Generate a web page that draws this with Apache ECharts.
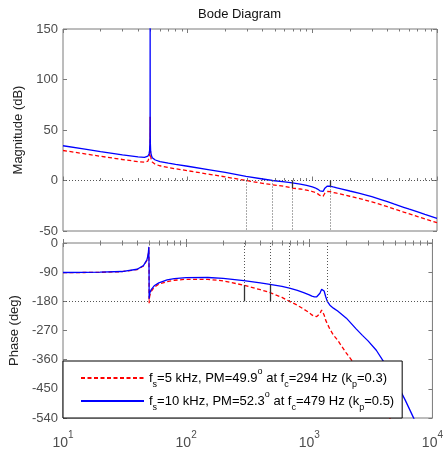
<!DOCTYPE html>
<html>
<head>
<meta charset="utf-8">
<script src="https://cdn.jsdelivr.net/npm/echarts@6/dist/echarts.min.js"></script>
<style>
html,body{margin:0;padding:0;background:#fff;}
#c{width:446px;height:455px;}
</style>
</head>
<body>
<div id="c"></div>
<script>
// ---------------- data ----------------
const freq = [10, 15, 20, 30, 40, 45, 48, 49, 49.5, 49.8,
  49.9, 49.95, 50, 50.05, 50.1, 50.2, 50.5, 51, 52, 55,
  60, 70, 80, 100, 150, 200, 294, 400, 479, 600,
  690, 800, 900, 1000, 1050, 1100, 1150, 1188, 1220, 1260,
  1285, 1320, 1358, 1400, 1470, 1570, 1700, 2000, 2400, 2700,
  3000, 3500, 4000, 4500, 5400, 6000, 7000, 8000, 10000];

const magRed = [29.7, 26.4, 24.0, 20.8, 18.7, 18.1, 19.2, 21.0, 24, 30,
  36, 45, 63, 45, 36, 30, 24, 21, 18.3, 16.0,
  14.6, 12.8, 11.6, 9.7, 6.1, 3.6, 0.0, -2.8, -4.2, -5.8,
  -7.5, -8.4, -9.5, -10.9, -11.8, -13.0, -14.8, -16.6, -15.6, -12.6,
  -11.4, -10.9, -10.8, -11.1, -11.8, -12.6, -13.5, -15.6, -18.0, -19.6,
  -21.1, -23.6, -25.9, -28.0, -31.2, -33.0, -35.7, -38.0, -41.8];

const magBlue = [34.4, 31.0, 28.6, 25.4, 23.4, 22.9, 24.2, 26.3, 29.5, 37,
  45, 60, 165, 60, 45, 37, 29, 25.5, 22.6, 20.3,
  18.8, 17.1, 15.9, 14.1, 10.6, 8.0, 4.0, 1.5, 0.0, -1.4,
  -2.3, -3.6, -4.8, -6.3, -7.2, -8.5, -10.2, -12.0, -10.8, -7.6,
  -6.2, -5.5, -5.4, -5.7, -6.4, -7.2, -8.2, -10.4, -12.8, -14.4,
  -16.0, -18.6, -21.0, -23.2, -26.5, -28.4, -31.1, -33.5, -37.4];

const phaseRed = [-91.5, -91, -90.5, -88.5, -82, -71, -54, -40, -26, -14,
  -9, -8, -95, -186, -183, -177, -166, -158, -150, -137,
  -127, -119, -115, -112, -112, -117, -130.1, -144, -153, -168,
  -180, -192, -204, -215, -222, -226, -227, -225, -218, -207,
  -206, -222, -238, -249, -266, -284, -300, -340, -380, -405,
  -432, -470, -505, -540, -600, -640, -700, -750, -830];

const phaseBlue = [-91, -90.5, -90, -88, -81, -70, -52, -38, -24, -12,
  -7, -6, -90, -172, -170, -166, -158, -151, -144, -132,
  -123, -114, -110, -107, -106.5, -109, -116, -123, -127.7, -134,
  -139, -146, -153, -160, -164, -166, -166, -163, -155, -143,
  -137, -148, -165, -180, -192, -201, -210, -232, -265, -285,
  -302, -331, -365, -396, -450, -484, -538, -590, -690];

// stability margins
const fcRed = 294, pmRed = 49.9;      // gain crossover & phase margin, fs = 5 kHz
const fcBlue = 479, pmBlue = 52.3;    // gain crossover & phase margin, fs = 10 kHz
const f180Red = 690, gmRedDb = -7.5;  // phase crossover & magnitude there
const f180Blue = 1400, gmBlueDb = -5.7;

// axes
const magTicks = [-50, 0, 50, 100, 150];
const phaseTicks = [-540, -450, -360, -270, -180, -90, 0];
const xMajor = [10, 100, 1000, 10000];
const xMinor = [20,30,40,50,60,70,80,90,200,300,400,500,600,700,800,900,2000,3000,4000,5000,6000,7000,8000,9000];

// ---------------- chart ----------------
const FONT = 'Liberation Sans, Arial, Helvetica, sans-serif';
const AX = '#7a7a7a';
const LBL = '#4d4d4d';
const pairs = (xs, ys) => xs.map((x, i) => [x, ys[i]]);

function xAx(grid, pos, ticks, len, labels) {
  return {
    type: 'log', logBase: 10, min: 10, max: 10000, gridIndex: grid, position: pos,
    axisLine: {show: false}, splitLine: {show: false},
    axisTick: {show: true, inside: true, length: len, customValues: ticks, lineStyle: {color: AX, width: 1}},
    axisLabel: labels ? {
      show: true, customValues: xMajor, margin: 12,
      formatter: v => '{b|10}{s|' + Math.round(Math.log10(v)) + '}',
      rich: {
        b: {fontSize: 14, lineHeight: 14, verticalAlign: 'bottom', color: LBL, fontFamily: FONT},
        s: {fontSize: 10, padding: [0, 0, 10, 0], verticalAlign: 'top', color: LBL, fontFamily: FONT}
      }
    } : {show: false}
  };
}
function yAx(grid, pos, min, max, interval, labels, name) {
  return {
    type: 'value', gridIndex: grid, position: pos, min, max, interval,
    axisLine: {show: false}, splitLine: {show: false},
    axisTick: {show: true, inside: true, length: 4, lineStyle: {color: AX}},
    axisLabel: {show: labels, margin: 5, fontSize: 13, color: LBL, fontFamily: FONT},
    name: name || '', nameLocation: 'middle', nameGap: 37,
    nameTextStyle: {fontSize: 13, color: '#222', fontFamily: FONT}
  };
}

const dotted = {type: [1, 2], color: '#555', width: 1};
const solid = {type: 'solid', color: '#333', width: 1.3};
const crossF = [fcRed, fcBlue, f180Red, f180Blue];

const legendText = {
  fs5: '{t|f}{sub|s}{t|=5 kHz, PM=' + pmRed + '}{sup|o}{t| at f}{sub|c}{t|=' + fcRed + ' Hz (k}{sub|p}{t|=0.3)}',
  fs10: '{t|f}{sub|s}{t|=10 kHz, PM=' + pmBlue + '}{sup|o}{t| at f}{sub|c}{t|=' + fcBlue + ' Hz (k}{sub|p}{t|=0.5)}'
};

const option = {
  animation: false,
  backgroundColor: '#fff',
  title: {text: 'Bode Diagram', left: 198, top: 8, padding: 0,
    textStyle: {fontSize: 13, fontWeight: 'normal', color: '#111', fontFamily: FONT}},
  grid: [
    {left: 63, right: 9, top: 29, height: 202, show: true, borderColor: AX, borderWidth: 1, backgroundColor: '#fff'},
    {left: 63, right: 9, top: 243, height: 175, show: true, borderColor: AX, borderWidth: 1, backgroundColor: '#fff'}
  ],
  xAxis: [
    xAx(0, 'bottom', xMajor, 4, false), xAx(0, 'bottom', xMinor, 2.5, false),
    xAx(0, 'top', xMajor, 4, false), xAx(0, 'top', xMinor, 2.5, false),
    xAx(1, 'bottom', xMajor, 4, true), xAx(1, 'bottom', xMinor, 2.5, false),
    xAx(1, 'top', xMajor, 4, false), xAx(1, 'top', xMinor, 2.5, false)
  ],
  yAxis: [
    yAx(0, 'left', magTicks[0], magTicks[magTicks.length - 1], 50, true, 'Magnitude (dB)'),
    yAx(0, 'right', magTicks[0], magTicks[magTicks.length - 1], 50, false),
    yAx(1, 'left', phaseTicks[0], phaseTicks[phaseTicks.length - 1], 90, true, 'Phase (deg)'),
    yAx(1, 'right', phaseTicks[0], phaseTicks[phaseTicks.length - 1], 90, false)
  ],
  legend: {
    data: ['fs5', 'fs10'], orient: 'vertical', left: 63, top: 361,
    backgroundColor: '#fff', borderColor: '#000', borderWidth: 1,
    padding: [6, 8, 6, 17], itemGap: 1, itemWidth: 63, itemHeight: 14,
    selectedMode: false,
    itemStyle: {color: 'rgba(0,0,0,0)', borderWidth: 0, opacity: 0},
    formatter: name => legendText[name],
    textStyle: {
      fontFamily: FONT, color: '#000',
      rich: {
        t: {fontSize: 13, lineHeight: 22, color: '#000', fontFamily: FONT},
        sub: {fontSize: 9, lineHeight: 9, verticalAlign: 'bottom', color: '#000', fontFamily: FONT},
        sup: {fontSize: 9, lineHeight: 9, verticalAlign: 'top', color: '#000', fontFamily: FONT}
      }
    }
  },
  series: [
    {
      name: 'fs5', type: 'line', xAxisIndex: 0, yAxisIndex: 0, data: pairs(freq, magRed),
      symbol: 'none', showSymbol: false, clip: true,
      lineStyle: {color: '#ff0000', width: 1.3, type: [4, 2.5]}, itemStyle: {color: '#ff0000'},
      markLine: {
        silent: true, symbol: ['none', 'none'], label: {show: false}, animation: false,
        data: [
          [{coord: [10, 0], lineStyle: dotted}, {coord: [10000, 0]}],
          ...crossF.map(f => [{coord: [f, 0], lineStyle: dotted}, {coord: [f, magTicks[0]]}]),
          [{coord: [f180Red, 0], lineStyle: solid}, {coord: [f180Red, gmRedDb]}],
          [{coord: [f180Blue, 0], lineStyle: solid}, {coord: [f180Blue, gmBlueDb]}]
        ]
      }
    },
    {
      name: 'fs10', type: 'line', xAxisIndex: 0, yAxisIndex: 0, data: pairs(freq, magBlue),
      symbol: 'none', showSymbol: false, clip: true,
      lineStyle: {color: '#0000ff', width: 1.3}, itemStyle: {color: '#0000ff'}
    },
    {
      name: 'fs5', type: 'line', xAxisIndex: 4, yAxisIndex: 2, data: pairs(freq, phaseRed),
      symbol: 'none', showSymbol: false, clip: true,
      lineStyle: {color: '#ff0000', width: 1.3, type: [4, 2.5]}, itemStyle: {color: '#ff0000'},
      markLine: {
        silent: true, symbol: ['none', 'none'], label: {show: false}, animation: false,
        data: [
          [{coord: [10, -180], lineStyle: dotted}, {coord: [10000, -180]}],
          ...crossF.map(f => [{coord: [f, 0], lineStyle: dotted}, {coord: [f, -180]}]),
          [{coord: [fcRed, -180], lineStyle: solid}, {coord: [fcRed, -180 + pmRed]}],
          [{coord: [fcBlue, -180], lineStyle: solid}, {coord: [fcBlue, -180 + pmBlue]}]
        ]
      }
    },
    {
      name: 'fs10', type: 'line', xAxisIndex: 4, yAxisIndex: 2, data: pairs(freq, phaseBlue),
      symbol: 'none', showSymbol: false, clip: true,
      lineStyle: {color: '#0000ff', width: 1.3}, itemStyle: {color: '#0000ff'}
    }
  ]
};

const chart = echarts.init(document.getElementById('c'), null, {renderer: 'canvas'});
chart.setOption(option);
</script>
</body>
</html>
